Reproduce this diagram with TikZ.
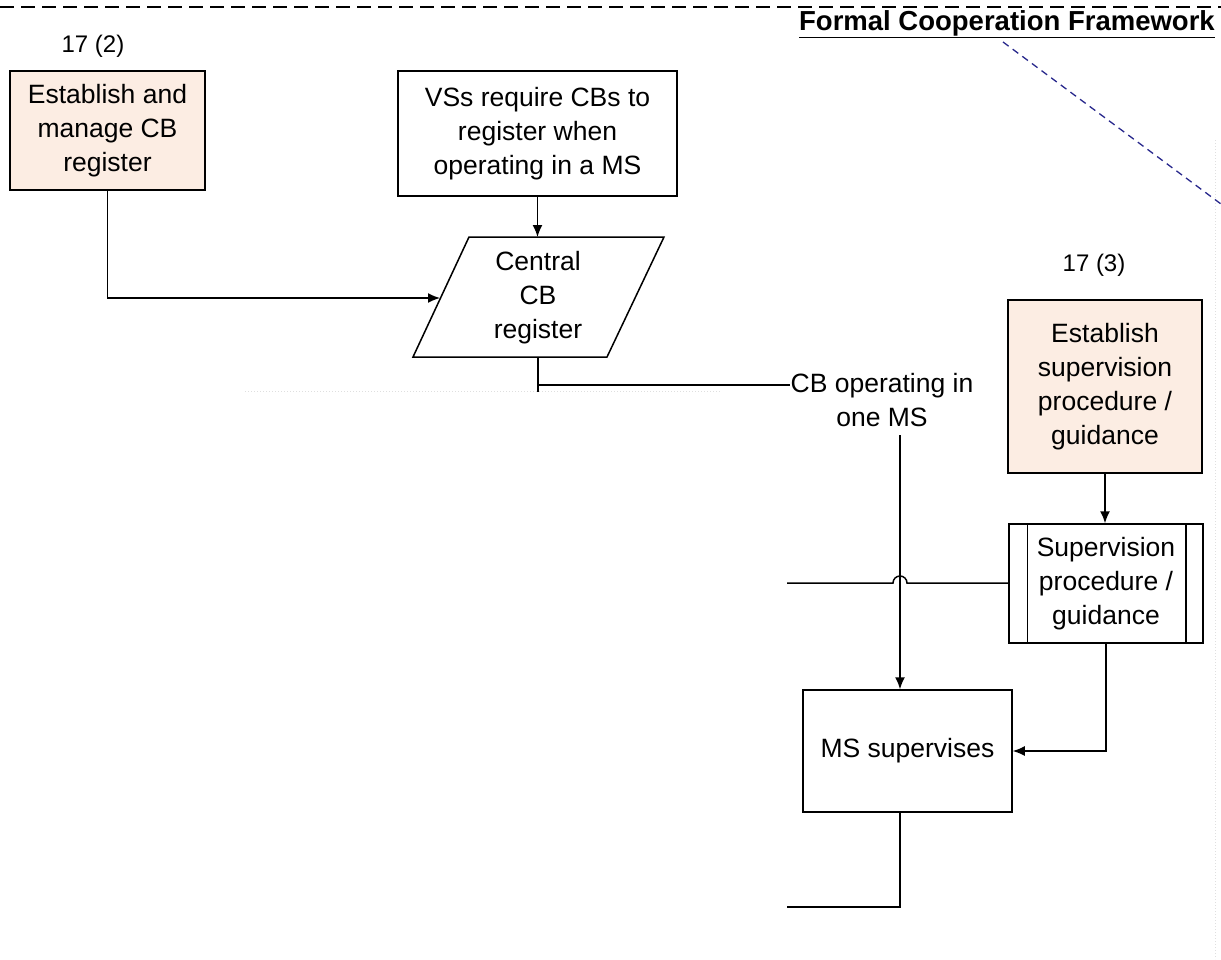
\documentclass[tikz,border=0pt]{standalone}
\usepackage{fontspec}
\setmainfont{Liberation Sans}
\usetikzlibrary{positioning}
\usetikzlibrary{arrows.meta}
\definecolor{peach}{RGB}{252,237,227}
\definecolor{linkblue}{RGB}{40,40,140}
\tikzset{
	task/.style = {draw, line width=1.5pt, align=center, inner sep=0pt},
	con/.style = {line width=1.5pt},
	arr/.style = {line width=1.5pt, -{Latex[length=12pt, width=10pt]}},
}

\begin{document}
\begin{tikzpicture}[x=1pt, y=-1pt, font=\fontsize{26.5}{34}\selectfont]
			\useasboundingbox (0, 0) rectangle (1221, 959);
			\draw[line width=1.5pt, dash pattern=on 14pt off 7pt] (0, 7)--(1221, 7);
			\draw[gray!25, dotted, line width=1pt] (245, 391)--(720, 391);
			\draw[gray!25, dotted, line width=1pt] (1215, 140)--(1215, 959);
			\node (fcf) at (1215, 24) [anchor = east, inner sep=0pt, font=\fontsize{27.5}{30}\selectfont\bfseries]{\underline{Formal Cooperation Framework}};
			\node (num2) at (93, 46) [font=\fontsize{24}{30}\selectfont]{17 (2)};
			\node (num3) at (1094, 265) [font=\fontsize{24}{30}\selectfont]{17 (3)};
			\node (est) at (107.5, 130.5) [task, fill=peach, minimum width=195pt, minimum height=119pt]{Establish and\\manage CB\\register};
			\node (vss) at (537.5, 133.5) [task, minimum width=279pt, minimum height=125pt]{VSs require CBs to\\register when\\operating in a MS};
			\node (reg) at (538, 298) [align=center, inner sep=0pt]{Central\\CB\\register};
			\coordinate (rsw) at (413, 357);
			\coordinate (rnw) at (469, 237);
			\coordinate (rne) at (664, 237);
			\coordinate (rse) at (607, 357);
			\coordinate (rin) at (440, 298);
			\coordinate (rout) at (538, 357);
			\coordinate (rstub) at (538, 392);
			\coordinate (split) at (538, 385);
			\draw[con] (rsw)--(rnw)--(rne)--(rse)--cycle;
			\node (one) at (882, 400) [align=center, inner sep=0pt]{CB operating in\\one MS};
			\coordinate (drop) at (900, 435);
			\node (ms) at (907.5, 751) [task, minimum width=209pt, minimum height=122pt]{MS supervises};
			\node (estsup) at (1105, 386.5) [task, fill=peach, minimum width=194pt, minimum height=173pt]{Establish\\supervision\\procedure /\\guidance};
			\node (sup) at (1106, 583.5) [task, minimum width=194pt, minimum height=119pt]{Supervision\\procedure /\\guidance};
			\draw[con] ([xshift=19pt]sup.north west)--([xshift=19pt]sup.south west);
			\draw[con] ([xshift=-18pt]sup.north east)--([xshift=-18pt]sup.south east);
			\coordinate (left1) at (787, 583);
			\coordinate (left2) at (787, 907);
			\draw[arr] (vss.south)--(vss.south |- rnw);
			\draw[arr] (est.south) |- (rin);
			\draw[con] (rout)--(rstub);
			\draw[con] (split)--(split -| one.west);
			\draw[arr] (drop)--(drop |- ms.north);
			\draw[con] (left1)--(893, 583) arc[start angle=180, end angle=0, radius=7pt]--(left1 -| sup.west);
			\draw[arr] (estsup.south)--(estsup.south |- sup.north);
			\draw[arr] (sup.south) |- (ms.east);
			\draw[con] (drop |- ms.south) |- (left2);
			\draw[linkblue, line width=1.3pt, dash pattern=on 7pt off 5pt] (1003, 42)--(1221, 204);
		\end{tikzpicture}
\end{document}
